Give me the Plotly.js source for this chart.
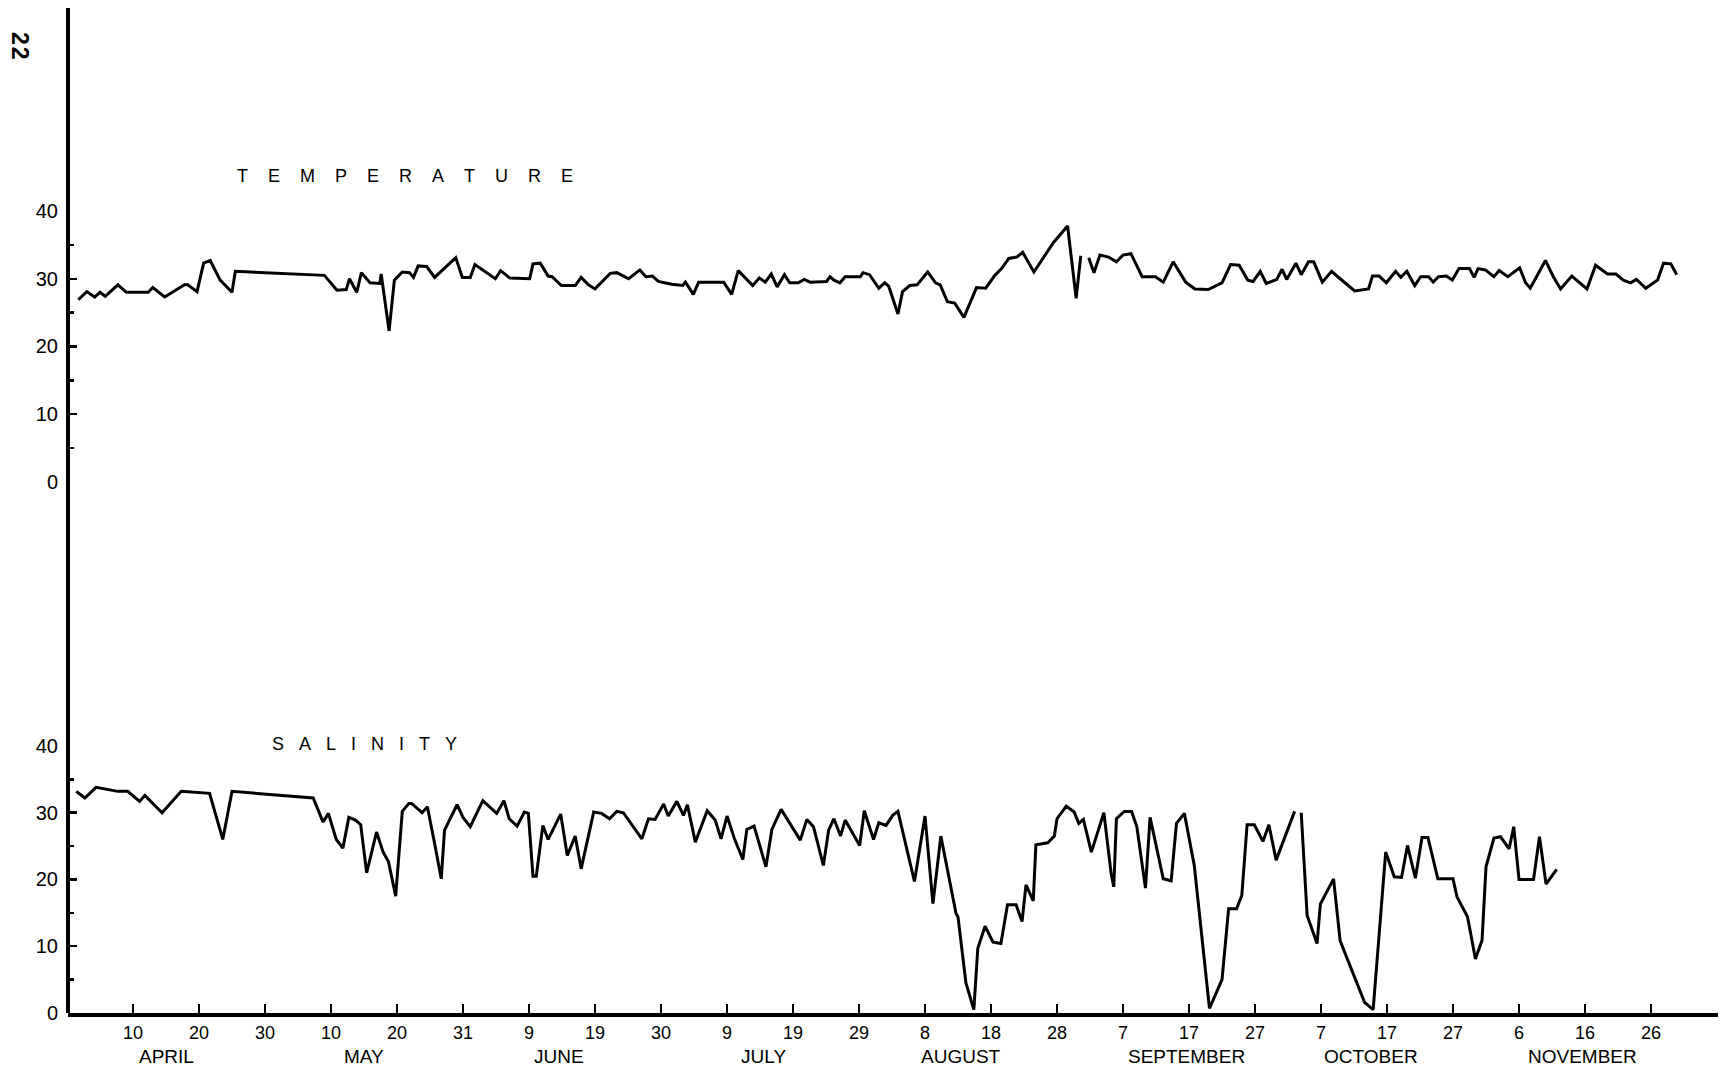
<!DOCTYPE html>
<html>
<head>
<meta charset="utf-8">
<script src="https://cdn.plot.ly/plotly-3.0.1.min.js"></script>
<style>
  html, body { margin: 0; padding: 0; background: #fff; }
  #chart { width: 1729px; height: 1069px; }
</style>
</head>
<body>
<div id="chart"></div>
<script>
// ---- Data (day of year) ----
const tempDay = [91.7,93.0,94.2,95.0,95.8,97.7,99.0,102.3,103.0,104.8,107.8,108.3,109.7,110.7,111.7,113.2,115.0,115.5,
  129.0,130.9,132.3,132.8,133.9,134.6,135.9,137.4,137.6,138.8,139.6,140.8,141.9,142.5,143.2,144.5,145.7,148.9,149.9,151.1,151.8,153.2,
  154.9,155.7,157.1,160.1,160.6,161.7,162.9,163.5,164.9,167.0,167.9,169.0,170.0,172.3,173.3,175.1,176.8,177.7,178.7,179.6,
  181.6,183.3,183.7,184.9,185.7,189.5,190.7,191.7,193.9,194.9,195.8,196.7,197.6,198.7,199.5,200.8,201.7,202.6,205.1,205.6,
  206.2,207.1,207.9,210.2,210.6,211.6,213.0,213.9,214.5,215.9,216.6,217.7,218.8,220.4,221.6,222.3,223.4,224.5,225.9,227.8,
  229.2,230.5,231.6,232.7,233.9,234.8,236.5,239.5,241.6,242.9,243.6,244.2,
  244.8,245.6,246.5,247.8,249.0,250.0,251.2,252.9,254.9,256.1,257.6,259.5,260.9,262.9,265.0,266.3,267.6,268.9,269.7,270.8,
  271.7,273.3,274.1,274.8,276.2,277.0,278.1,278.9,280.2,281.6,282.9,285.1,287.2,287.8,288.8,289.9,291.3,292.1,293.0,294.2,
  295.1,296.3,297.0,297.8,299.0,299.9,300.9,302.5,303.2,303.8,304.9,306.2,307.0,308.3,310.1,311.0,311.7,314.0,315.2,316.3,
  318.0,319.1,320.3,321.6,323.4,324.7,325.8,326.9,327.8,329.2,331.0,331.9,333.0,333.9];
const tempVal = [26.9,28.1,27.3,28.0,27.4,29.1,28.0,28.0,28.7,27.3,29.1,29.1,28.1,32.3,32.7,29.8,28.0,31.1,
  30.5,28.3,28.4,30.0,28.0,30.9,29.4,29.3,30.7,22.3,29.8,31.0,30.9,30.2,31.9,31.8,30.2,33.1,30.2,30.2,32.1,31.1,
  30.0,31.2,30.1,30.0,32.2,32.3,30.4,30.3,29.0,29.0,30.2,29.1,28.5,30.8,30.9,30.0,31.3,30.3,30.4,29.6,
  29.2,29.0,29.5,27.7,29.5,29.5,27.7,31.2,29.0,30.1,29.5,30.7,28.8,30.6,29.4,29.4,29.9,29.5,29.6,30.3,
  29.8,29.4,30.3,30.3,30.9,30.6,28.6,29.4,28.9,24.8,28.1,29.0,29.1,31.0,29.4,29.1,26.6,26.4,24.3,28.7,
  28.6,30.4,31.5,33.0,33.2,33.9,31.0,35.4,37.8,27.1,33.4,null,
  33.1,30.9,33.5,33.2,32.5,33.5,33.7,30.3,30.3,29.5,32.5,29.5,28.5,28.4,29.4,32.1,32.0,29.8,29.6,31.1,
  29.3,29.9,31.4,29.9,32.3,30.6,32.5,32.5,29.5,31.1,30.0,28.2,28.5,30.4,30.4,29.4,31.1,30.2,31.1,29.0,
  30.3,30.3,29.5,30.3,30.4,29.8,31.5,31.5,30.2,31.5,31.3,30.3,31.2,30.3,31.6,29.4,28.6,32.7,30.3,28.5,
  30.4,29.5,28.5,32.0,30.7,30.7,29.8,29.4,29.9,28.6,29.8,32.3,32.2,30.6];

const salDay = [91.4,92.7,94.4,97.7,99.2,101.0,101.8,104.4,107.3,111.6,113.6,115.0,127.3,128.8,129.6,130.8,131.8,132.7,133.7,134.5,
  135.4,136.9,137.9,138.7,139.8,140.8,141.8,142.2,143.8,144.6,145.7,146.7,147.2,149.1,150.0,151.1,153.0,155.1,156.2,157.0,
  158.2,159.3,159.9,160.6,161.1,162.1,162.9,164.8,165.8,167.0,167.9,169.8,171.0,172.2,173.3,174.3,177.1,178.1,179.1,180.4,
  181.1,182.4,183.4,184.0,185.2,187.0,188.2,189.1,190.0,191.2,192.4,193.0,194.1,195.9,196.8,198.2,201.1,202.1,203.1,204.6,
  205.4,206.2,207.2,207.9,210.1,210.8,212.2,213.0,214.1,215.1,215.9,218.4,220.0,221.2,222.4,224.7,225.0,226.2,227.4,228.0,
  229.1,230.3,231.5,232.5,233.8,234.7,235.3,236.4,236.8,238.6,239.6,240.0,241.4,242.6,243.3,244.0,245.2,247.1,248.2,248.6,
  249.0,250.2,251.3,252.1,253.4,254.1,256.1,257.3,258.1,259.3,260.8,263.1,265.0,266.0,267.2,268.0,268.8,269.9,271.2,272.1,
  273.2,276.0,276.5,277.0,277.9,279.4,279.9,281.9,282.9,286.6,287.9,289.8,291.1,292.2,293.1,294.3,295.3,296.2,297.7,300.0,
  300.6,302.2,303.4,304.4,305.0,306.2,307.2,308.5,309.2,310.0,312.2,313.1,314.1,315.7];
const salVal = [33.2,32.2,33.8,33.2,33.2,31.7,32.6,30.0,33.2,32.9,26.0,33.2,32.2,28.6,29.9,26.0,24.7,29.3,28.9,28.2,
  21.0,27.1,24.1,22.7,17.5,30.2,31.4,31.4,30.0,30.9,25.4,20.1,27.4,31.2,29.3,27.9,31.8,29.9,31.8,29.1,
  28.0,30.1,29.9,20.5,20.5,28.1,26.0,29.8,23.6,26.5,21.6,30.1,29.9,29.1,30.2,30.0,26.1,29.1,29.0,31.3,
  29.5,31.7,29.6,31.2,25.6,30.3,28.9,26.1,29.5,25.9,23.0,27.5,28.0,21.9,27.5,30.5,25.9,29.0,27.9,22.1,
  27.4,29.1,26.5,28.9,25.1,30.3,26.0,28.5,28.1,29.6,30.2,19.7,29.5,16.4,26.5,14.9,14.4,4.5,0.5,9.7,
  13.0,10.6,10.4,16.2,16.2,13.7,19.2,16.8,25.2,25.5,26.5,29.1,31.0,30.1,28.4,29.0,24.1,30.0,20.9,18.9,
  29.1,30.2,30.2,27.9,18.7,29.3,20.1,19.8,28.4,29.9,22.1,0.7,5.0,15.6,15.6,17.6,28.2,28.2,25.7,28.2,
  22.9,30.2,null,30.0,14.6,10.4,16.3,20.1,10.8,1.6,0.5,24.1,20.4,20.3,25.1,20.2,26.3,26.3,20.1,20.1,
  17.4,14.4,8.1,10.9,21.9,26.2,26.4,24.6,27.9,20.0,20.0,26.4,19.3,21.5];

// x-axis tick labels (every 10 days from day 100)
const tickDays = [100,110,120,130,140,150,160,170,180,190,200,210,220,230,240,250,260,270,280,290,300,310,320,330];
const tickLabels = ["10","20","30","10","20","31","9","19","30","9","19","29","8","18","28","7","17","27","7","17","27","6","16","26"];
const monthNames = ["APRIL","MAY","JUNE","JULY","AUGUST","SEPTEMBER","OCTOBER","NOVEMBER"];
const monthCenters = [105,135,164.5,195.5,225.5,259.6,287.6,319.6];
const yTicks = [0,10,20,30,40];
const yMinor = [5,15,25,35];

// ---- Styling ----
const FONT = "Liberation Sans, Arial, Helvetica, sans-serif";
const INK = "#000";

function spaced(word, n) {
  return word.split("").join("\u00a0".repeat(n));
}

const yStyle = {
  range: [0, 40],
  tickvals: yTicks,
  ticktext: yTicks.map(String),
  ticks: "inside",
  ticklen: 9,
  tickwidth: 2.5,
  tickcolor: INK,
  minor: { tickvals: yMinor, ticks: "inside", ticklen: 6, tickwidth: 2.5, tickcolor: INK, showgrid: false },
  showline: false,
  showgrid: false,
  zeroline: false,
  tickfont: { family: FONT, size: 20, color: INK },
  ticklabelstandoff: 9,
  fixedrange: true
};

const traces = [
  { x: tempDay, y: tempVal, xaxis: "x", yaxis: "y2", mode: "lines",
    line: { color: INK, width: 3 }, connectgaps: false, hoverinfo: "skip", name: "Temperature" },
  { x: salDay, y: salVal, xaxis: "x", yaxis: "y", mode: "lines",
    line: { color: INK, width: 3 }, connectgaps: false, hoverinfo: "skip", name: "Salinity" }
];

const annotations = monthNames.map((m, i) => ({
  text: m, x: monthCenters[i], xref: "x", y: 0, yref: "paper",
  xanchor: "center", yanchor: "top", yshift: -32, borderpad: 0, showarrow: false,
  font: { family: FONT, size: 19, color: INK }
}));
annotations.push({
  text: spaced("TEMPERATURE", 4), x: 0.1012, xref: "paper", y: 0.8328, yref: "paper",
  xanchor: "left", yanchor: "middle", showarrow: false,
  font: { family: FONT, size: 18, color: INK }
});
annotations.push({
  text: spaced("SALINITY", 3), x: 0.1224, xref: "paper", y: 0.2677, yref: "paper",
  xanchor: "left", yanchor: "middle", showarrow: false,
  font: { family: FONT, size: 18, color: INK }
});
annotations.push({
  text: "<b>2\u200a2</b>", x: -0.029, xref: "paper", y: 0.962, yref: "paper",
  xanchor: "center", yanchor: "middle", textangle: 90, showarrow: false,
  font: { family: FONT, size: 23, color: INK }
});

const layout = {
  width: 1729, height: 1069,
  margin: { l: 68, r: 11, t: 8, b: 56, pad: 0 },
  paper_bgcolor: "#fff", plot_bgcolor: "#fff",
  showlegend: false,
  xaxis: {
    range: [90.15, 340.15],
    tickvals: tickDays, ticktext: tickLabels,
    ticks: "inside", ticklen: 9, tickwidth: 2.5, tickcolor: INK,
    showline: true, linewidth: 4, linecolor: INK,
    showgrid: false, zeroline: false,
    tickfont: { family: FONT, size: 18, color: INK },
    ticklabelstandoff: 0,
    anchor: "y", fixedrange: true
  },
  yaxis: Object.assign({}, yStyle, { domain: [0, 0.2657], anchor: "x" }),
  yaxis2: Object.assign({}, yStyle, { domain: [0.5284, 0.7980], anchor: "x" }),
  shapes: [
    { type: "line", xref: "paper", yref: "paper", x0: 0, x1: 0, y0: 0, y1: 1,
      line: { color: INK, width: 4 } }
  ],
  annotations: annotations
};

Plotly.newPlot("chart", traces, layout, { displayModeBar: false, staticPlot: true });
</script>
</body>
</html>
